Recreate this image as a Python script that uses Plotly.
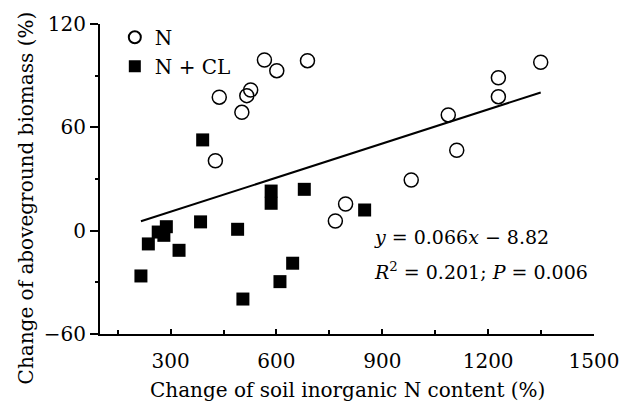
import plotly.graph_objects as go

# Data
n_x = [427, 438, 502, 516, 527, 566, 601, 688, 767, 796, 982, 1087, 1111, 1229, 1229, 1349]
n_y = [40.6, 77.5, 68.7, 78.4, 81.7, 99.1, 92.9, 98.7, 5.6, 15.5, 29.4, 67.2, 46.7, 88.8, 77.8, 97.8]

ncl_x = [216, 237, 265, 281, 288, 324, 385, 391, 490, 505, 585, 585, 610, 646, 679, 850]
ncl_y = [-26.3, -7.7, -0.8, -2.7, 2.3, -11.4, 5.1, 52.7, 0.8, -39.7, 23.0, 15.9, -29.6, -18.9, 24.0, 12.0]

slope = 0.066
intercept = -8.82

x_ticks = [300, 600, 900, 1200, 1500]
y_ticks = [-60, 0, 60, 120]

FONT = "DejaVu Serif"
FS = 20

all_x = n_x + ncl_x
fit_x = [min(all_x), max(all_x)]
fit_y = [slope * v + intercept for v in fit_x]

fig = go.Figure()
fig.add_trace(go.Scatter(x=fit_x, y=fit_y, mode="lines",
                         line=dict(color="black", width=2), showlegend=False))
fig.add_trace(go.Scatter(x=n_x, y=n_y, mode="markers", name="N",
                         marker=dict(symbol="circle-open", size=14, color="black",
                                     line=dict(width=1.5, color="black"))))
fig.add_trace(go.Scatter(x=ncl_x, y=ncl_y, mode="markers", name="N + CL",
                         marker=dict(symbol="square", size=13, color="black",
                                     line=dict(width=0))))

fig.update_layout(
    width=631, height=403, autosize=False,
    margin=dict(l=100, r=34, t=24, b=69),
    paper_bgcolor="white", plot_bgcolor="white",
    font=dict(family=FONT, size=FS, color="black"),
    showlegend=True,
    legend=dict(x=0.03, y=1.02, xanchor="left", yanchor="top",
                bgcolor="rgba(0,0,0,0)", itemsizing="constant",
                font=dict(family=FONT, size=FS), tracegroupgap=0),
    xaxis=dict(range=[100, 1500], tickvals=x_ticks, ticks="inside", ticklen=5,
               tickwidth=1.5, tickcolor="black", showline=True, linecolor="black",
               linewidth=2, showgrid=False, zeroline=False, ticklabelstandoff=8,
               minor=dict(dtick=150, tick0=0, ticks="inside", ticklen=4,
                          tickwidth=1.5, tickcolor="black", showgrid=False),
               tickfont=dict(family=FONT, size=FS)),
    yaxis=dict(range=[-60, 120], tickvals=y_ticks, ticks="outside", ticklen=8,
               tickwidth=1.5, tickcolor="black", showline=True, linecolor="black",
               linewidth=2, showgrid=False, zeroline=False,
               minor=dict(dtick=30, tick0=0, ticks="outside", ticklen=3,
                          tickwidth=1.5, tickcolor="black", showgrid=False),
               tickfont=dict(family=FONT, size=FS)),
    annotations=[
        dict(text="Change of soil inorganic N content (%)", xref="paper", yref="paper",
             x=0.5, y=-0.1806, xanchor="center", yanchor="middle", showarrow=False,
             font=dict(family=FONT, size=FS)),
        dict(text="Change of aboveground biomass (%)", xref="paper", yref="paper",
             x=-0.149, y=0.4387, xanchor="center", yanchor="middle", showarrow=False,
             textangle=-90, font=dict(family=FONT, size=FS)),
        dict(text="<i>y</i> = 0.066<i>x</i> − 8.82", xref="x", yref="y",
             x=870, y=-3.9, xanchor="left", yanchor="middle", showarrow=False,
             font=dict(family=FONT, size=19)),
        dict(text="<i>R</i><sup>2</sup> = 0.201; <i>P</i> = 0.006", xref="x", yref="y",
             x=870, y=-23.2, xanchor="left", yanchor="middle", showarrow=False,
             font=dict(family=FONT, size=19)),
    ],
)

fig.write_html("out.html")
